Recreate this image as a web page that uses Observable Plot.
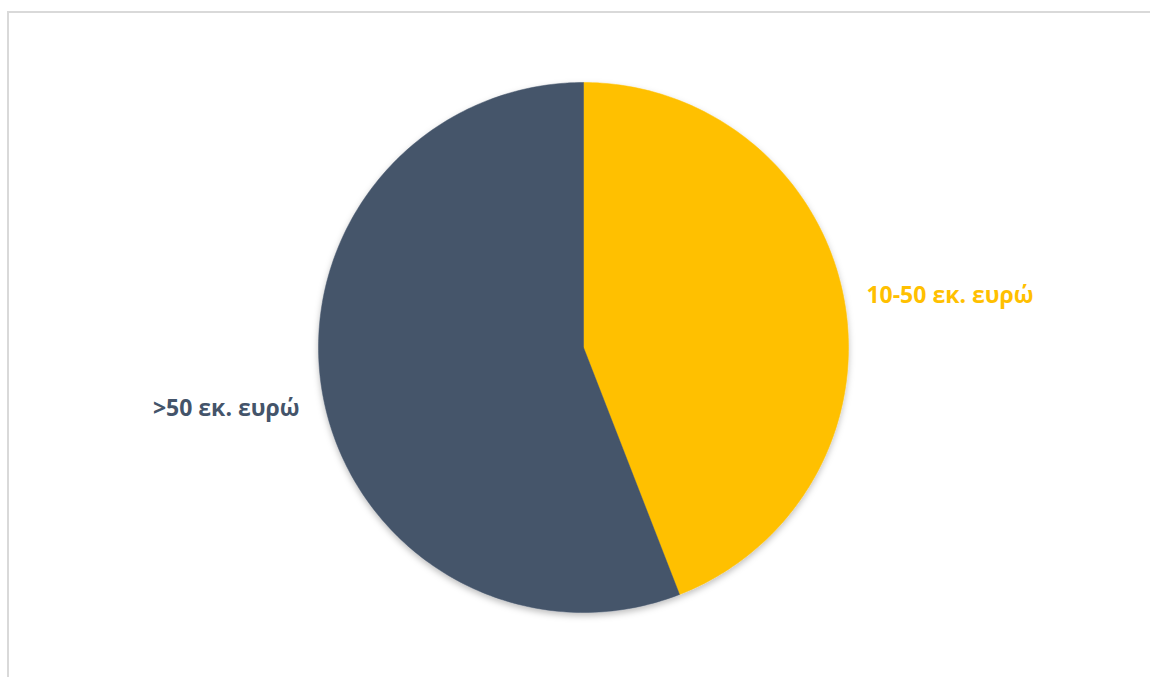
<!DOCTYPE html>
<html>
<head>
<meta charset="utf-8">
<script src="https://cdn.jsdelivr.net/npm/d3@7"></script>
<script src="https://cdn.jsdelivr.net/npm/@observablehq/plot@0.6"></script>
<style>
  html, body { margin: 0; padding: 0; background: #fff; }
  #wrap { position: relative; width: 1150px; height: 677px; overflow: hidden; }
  #frame { position: absolute; left: 7px; top: 11px; width: 1160px; height: 700px;
           border-left: 2px solid #d9d9d9; border-top: 2px solid #d9d9d9; box-sizing: border-box; }
  #chart { position: absolute; left: 0; top: 0; }
</style>
</head>
<body>
<div id="wrap"><div id="frame"></div><div id="chart"></div></div>
<script>
const categories = ["10-50 εκ. ευρώ", ">50 εκ. ευρώ"];
const shares = [44.1, 55.9];
const colors = ["#FFC000", "#44546A"];

const W = 1150, H = 677, cx = 583, cy = 347, R = 265;
const total = d3.sum(shares);
let acc = 0;
const pts = [];
const labels = [];
categories.forEach((c, i) => {
  const a0 = acc / total * 2 * Math.PI;
  acc += shares[i];
  const a1 = acc / total * 2 * Math.PI;
  pts.push({cat: c, x: 0, y: 0});
  const n = Math.max(4, Math.ceil((a1 - a0) / (Math.PI / 180)));
  for (let k = 0; k <= n; k++) {
    const a = a0 + (a1 - a0) * k / n;
    pts.push({cat: c, x: Math.sin(a), y: Math.cos(a)});
  }
  pts.push({cat: c, x: 0, y: 0});
  const am = (a0 + a1) / 2;
  labels.push({cat: c, x: 1.09 * Math.sin(am), y: 1.09 * Math.cos(am), anchor: Math.sin(am) >= 0 ? "start" : "end"});
});

const plot = Plot.plot({
  width: W, height: H,
  margin: 0,
  x: {domain: [-cx / R, (W - cx) / R], range: [0, W], axis: null},
  y: {domain: [-(H - cy) / R, cy / R], range: [H, 0], axis: null},
  color: {domain: categories, range: colors},
  style: {fontFamily: "'Open Sans', sans-serif", background: "transparent"},
  marks: [
    Plot.line(pts, {x: "x", y: "y", z: "cat", fill: "cat", stroke: "cat", strokeWidth: 0.5, curve: "linear"}),
    Plot.text(labels.filter(d => d.anchor === "start"), {x: "x", y: "y", text: "cat", fill: "cat", textAnchor: "start", fontSize: 23, fontWeight: "bold", dx: -1, dy: 1}),
    Plot.text(labels.filter(d => d.anchor === "end"), {x: "x", y: "y", text: "cat", fill: "cat", textAnchor: "end", fontSize: 23, fontWeight: "bold", dy: 8})
  ]
});
// soft shadow under the pie
const svg = d3.select(plot);
const defs = svg.insert("defs", ":first-child");
const f = defs.append("filter").attr("id", "pieShadow").attr("x", "-10%").attr("y", "-10%").attr("width", "120%").attr("height", "130%");
f.append("feDropShadow").attr("dx", 0).attr("dy", 3).attr("stdDeviation", 3).attr("flood-color", "#000").attr("flood-opacity", 0.25);
svg.select("g[aria-label='line']").attr("filter", "url(#pieShadow)");
document.getElementById("chart").appendChild(plot);
</script>
</body>
</html>
